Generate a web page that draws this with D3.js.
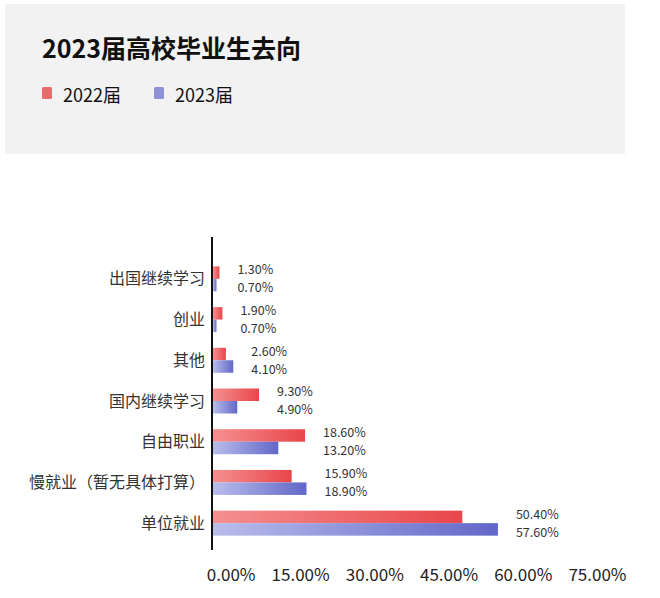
<!DOCTYPE html>
<html>
<head>
<meta charset="utf-8">
<script src="https://cdn.jsdelivr.net/npm/d3@7"></script>
<style>
  body { margin: 0; background: #fff; }
  text { font-family: "Noto Sans CJK SC", "Noto Sans", sans-serif; }
</style>
</head>
<body>
<svg id="chart" width="660" height="598"></svg>
<script>
/*
Chart data
 */
const categories = ["出国继续学习", "创业", "其他", "国内继续学习", "自由职业", "慢就业（暂无具体打算）", "单位就业"];
const values2022 = [1.3, 1.9, 2.6, 9.3, 18.6, 15.9, 50.4];
const values2023 = [0.7, 0.7, 4.1, 4.9, 13.2, 18.9, 57.6];
const seriesNames = ["2022届", "2023届"];
const tickValues = [0, 15, 30, 45, 60, 75];

const numFont = "\"Open Sans\", \"Noto Sans\", sans-serif";
const svg = d3.select("#chart");

// gradients for the bars
const defs = svg.append("defs");
function addGradient(id, from, to) {
    const g = defs.append("linearGradient").attr("id", id)
        .attr("x1", "0%").attr("x2", "100%").attr("y1", "0%").attr("y2", "0%");
    g.append("stop").attr("offset", "0%").attr("stop-color", from);
    g.append("stop").attr("offset", "100%").attr("stop-color", to);
}
addGradient("gradRed", "#f59090", "#e8464b");
addGradient("gradBlue", "#b9bdeb", "#6267c8");

//Header panel
svg.append("rect")
    .attr("x", 5).attr("y", 4)
    .attr("width", 620).attr("height", 150)
    .attr("fill", "#f2f2f2");

svg.append("text")
    .attr("x", 42).attr("y", 58)
    .attr("font-size", 25).attr("font-weight", "bold")
    .attr("fill", "#111")
    .text("2023届高校毕业生去向");

const legendColors = ["#ec6b6a", "#8e91d8"];
const legendX = [42, 154];
seriesNames.forEach(function(name, i) {
    svg.append("rect")
        .attr("x", legendX[i]).attr("y", 87)
        .attr("width", 10).attr("height", 12)
        .attr("rx", 1.5)
        .attr("fill", legendColors[i]);
    svg.append("text")
        .attr("x", legendX[i] + 21).attr("y", 102)
        .attr("font-size", 18)
        .attr("fill", "#111")
        .text(name);
});

/*
Scales
 */
const x = d3.scaleLinear().domain([0, 75]).range([213, 584]);
const y = d3.scaleBand().domain(categories).range([258.5, 543.5]);
const barH = 12.5;

const rows = categories.map(function(c, i) {
    return { name: c, a: values2022[i], b: values2023[i] };
});

const g = svg.append("g");

g.selectAll(".bar2022").data(rows).enter().append("rect")
    .attr("x", x(0))
    .attr("y", d => y(d.name) + y.bandwidth() / 2 - barH)
    .attr("width", d => x(d.a) - x(0))
    .attr("height", barH)
    .attr("fill", "url(#gradRed)");

g.selectAll(".bar2023").data(rows).enter().append("rect")
    .attr("x", x(0))
    .attr("y", d => y(d.name) + y.bandwidth() / 2)
    .attr("width", d => x(d.b) - x(0))
    .attr("height", barH)
    .attr("fill", "url(#gradBlue)");

// value labels, both start just after the longer bar
g.selectAll(".lab2022").data(rows).enter().append("text")
    .attr("x", d => x(Math.max(d.a, d.b)) + 18)
    .attr("y", d => y(d.name) + y.bandwidth() / 2 - 9)
    .attr("dy", "0.35em")
    .attr("font-family", numFont)
    .attr("font-size", 12.5).attr("fill", "#333")
    .text(d => d.a.toFixed(2) + "%");

g.selectAll(".lab2023").data(rows).enter().append("text")
    .attr("x", d => x(Math.max(d.a, d.b)) + 18)
    .attr("y", d => y(d.name) + y.bandwidth() / 2 + 9)
    .attr("dy", "0.35em")
    .attr("font-family", numFont)
    .attr("font-size", 12.5).attr("fill", "#333")
    .text(d => d.b.toFixed(2) + "%");

// category labels
g.selectAll(".cat").data(rows).enter().append("text")
    .attr("x", 205)
    .attr("y", d => y(d.name) + y.bandwidth() / 2)
    .attr("dy", "0.35em")
    .attr("text-anchor", "end")
    .attr("font-size", 16).attr("fill", "#333")
    .text(d => d.name);

// vertical axis line
svg.append("line")
    .attr("x1", 212).attr("x2", 212)
    .attr("y1", 237).attr("y2", 550)
    .attr("stroke", "#111").attr("stroke-width", 2);

// bottom tick labels (no line), shifted right like the original
const xAxis = svg.append("g")
    .attr("transform", "translate(0,566)")
    .call(d3.axisBottom(x).tickValues(tickValues).tickSize(0).tickFormat(d => d.toFixed(2) + "%"));
xAxis.select(".domain").remove();
xAxis.selectAll("text")
    .attr("text-anchor", "end")
    .attr("dx", 42)
    .attr("font-size", 17)
    .attr("font-family", numFont)
    .attr("fill", "#222");
</script>
</body>
</html>
